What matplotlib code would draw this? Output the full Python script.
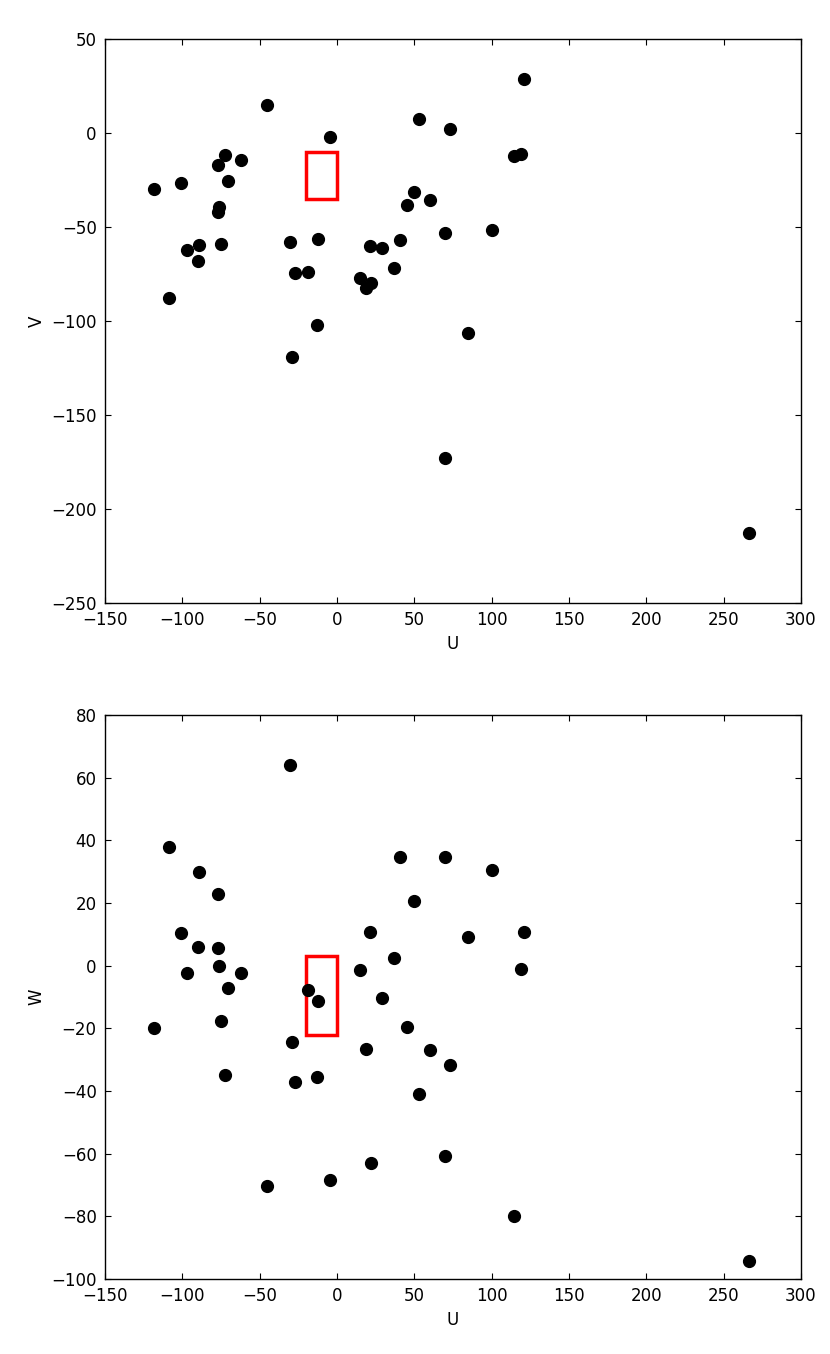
import matplotlib
matplotlib.use("Agg")
import matplotlib.pyplot as plt
from matplotlib.patches import Rectangle

U = [-118.3, -108.6, -100.9, -97.0, -89.2, -89.9, -76.9, -76.9, -76.3, -75.0,
     -72.4, -70.5, -62.1, -45.3, -30.4, -29.1, -27.2, -18.7, -12.3, -12.9,
     -4.5, 14.9, 18.8, 21.3, 22.0, 29.1, 36.9, 40.7, 45.3, 49.8,
     53.0, 60.1, 69.8, 69.8, 73.1, 84.7, 100.2, 114.4, 119.0, 120.9, 266.4]
V = [-29.8, -87.8, -26.6, -62.2, -59.6, -68.1, -17.0, -42.0, -39.4, -59.0,
     -11.7, -25.5, -14.4, 14.9, -58.0, -119.1, -74.5, -73.9, -56.4, -102.1,
     -2.1, -77.1, -82.4, -60.1, -79.8, -61.2, -71.8, -56.9, -38.3, -31.4,
     7.4, -35.6, -53.2, -172.9, 2.1, -106.4, -51.6, -12.2, -11.2, 28.7, -212.8]
W = [-19.9, 37.9, 10.4, -2.3, 29.9, 6.0, 22.9, 5.7, 0.0, -17.6,
     -34.9, -7.1, -2.3, -70.4, 64.1, -24.4, -37.1, -7.8, -11.3, -35.5,
     -68.5, -1.4, -26.6, 10.8, -63.1, -10.4, 2.5, 34.7, -19.6, 20.7,
     -40.9, -26.9, 34.7, -60.9, -31.8, 9.2, 30.6, -79.9, -1.0, 10.8, -94.3]

box_u = (-20, 0)
box_v = (-35, -10)
box_w = (-22, 3)

plt.rcParams.update({
    "font.family": "DejaVu Sans",
    "font.size": 12,
    "xtick.direction": "in",
    "ytick.direction": "in",
    "xtick.top": True,
    "ytick.right": True,
    "xtick.major.size": 4,
    "ytick.major.size": 4,
    "xtick.major.pad": 6,
    "ytick.major.pad": 6,
    "axes.linewidth": 1.0,
})

fig = plt.figure(figsize=(8.3, 13.54), dpi=100)
ax1 = fig.add_axes([0.1265, 0.5547, 0.8385, 0.4165])
ax2 = fig.add_axes([0.1265, 0.0554, 0.8385, 0.4165])

for ax, Y, box, lim, lab in [(ax1, V, box_v, (-250, 50), "V"), (ax2, W, box_w, (-100, 80), "W")]:
    ax.plot(U, Y, "o", color="black", markersize=8.5, markeredgecolor="black")
    ax.add_patch(Rectangle((box_u[0], box[0]), box_u[1] - box_u[0], box[1] - box[0],
                           fill=False, edgecolor="red", linewidth=2.5))
    ax.set_xlim(-150, 300)
    ax.set_ylim(*lim)
    ax.set_xlabel("U")
    ax.set_ylabel(lab)

ax2.set_yticks(range(-100, 81, 20))

fig.savefig("out.png", dpi=100, facecolor="white")
